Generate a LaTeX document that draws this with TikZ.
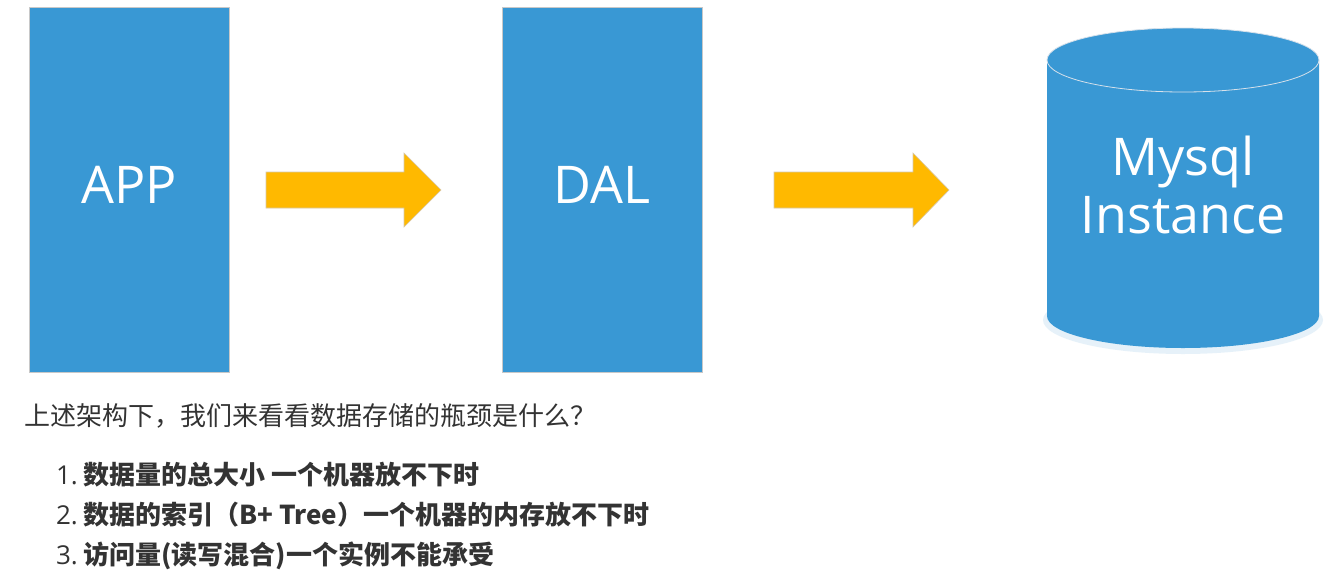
\documentclass[tikz,border=0pt]{standalone}
\usepackage{fontspec}
\setmainfont{Open Sans}
\newfontfamily\cjk{Noto Sans CJK SC}
\newfontfamily\labelfont{Open Sans}
\begin{document}
\begin{tikzpicture}[x=1pt,y=1pt,
  tierbox/.style={fill=boxblue, draw=boxedge, line width=0.8pt, minimum width=200pt, minimum height=365pt, inner sep=0pt},
  tierlabel/.style={text=white, anchor=base, inner sep=0pt, font=\labelfont\fontsize{52}{58}\selectfont},
  flowarrow/.style={fill=arrowyellow, draw=arrowedge, line width=0.6pt},
  bodytext/.style={text=bodygray, anchor=base west, inner sep=0pt, font=\cjk\fontsize{26}{30}\selectfont},
  itemtext/.style={text=bodygray, anchor=base west, inner sep=0pt, font=\cjk\bfseries\fontsize{26}{30}\selectfont},
  numtext/.style={text=bodygray, anchor=base east, inner sep=0pt, font=\labelfont\fontsize{26}{30}\selectfont}]
\definecolor{boxblue}{RGB}{57,152,212}
\definecolor{boxedge}{RGB}{200,200,200}
\definecolor{arrowyellow}{RGB}{255,185,0}
\definecolor{arrowedge}{RGB}{215,200,170}
\definecolor{bodygray}{RGB}{51,51,51}
\definecolor{cylline}{RGB}{215,225,235}
\useasboundingbox (0,0) rectangle (1342,-576);
\fill[white] (0,0) rectangle (1342,-576);
% boxes
\node[tierbox] (app) at (129,-189.5) {};
\node[tierlabel] (applabel) at (129,-203) {APP};
\node[tierbox] (dal) at (602,-189.5) {};
\node[tierlabel] (dallabel) at (602,-203) {DAL};
% arrows
\draw[flowarrow] (266,-172) -- (404,-172) -- (404,-153) -- (441,-190) -- (404,-227) -- (404,-208) -- (266,-208) -- cycle;
\draw[flowarrow] (774,-172) -- (913,-172) -- (913,-153) -- (949,-190) -- (913,-227) -- (913,-208) -- (774,-208) -- cycle;
% cylinder
\fill[boxblue!25, opacity=0.5] (1183,-320) ellipse[x radius=140, y radius=34];
\fill[boxblue] (1047,-60) -- (1047,-316) arc[start angle=180, end angle=360, x radius=136, y radius=32] -- (1319,-60) arc[start angle=0, end angle=180, x radius=136, y radius=32] -- cycle;
\draw[cylline, line width=0.8pt] (1183,-60) ellipse[x radius=136, y radius=32];
\node[tierlabel] (mysql) at (1183,-175) {Mysql};
\node[tierlabel] (instance) at (1183,-233) {Instance};
% text
\node[bodytext] (q) at (24,-425) {上述架构下，我们来看看数据存储的瓶颈是什么？};
\node[numtext] (n1) at (78,-484) {1.};
\node[itemtext] (t1) at (83,-484) {数据量的总大小 一个机器放不下时};
\node[numtext] (n2) at (78,-524) {2.};
\node[itemtext] (t2) at (83,-524) {数据的索引（B+ Tree）一个机器的内存放不下时};
\node[numtext] (n3) at (78,-564) {3.};
\node[itemtext] (t3) at (83,-564) {访问量(读写混合)一个实例不能承受};
\end{tikzpicture}
\end{document}
